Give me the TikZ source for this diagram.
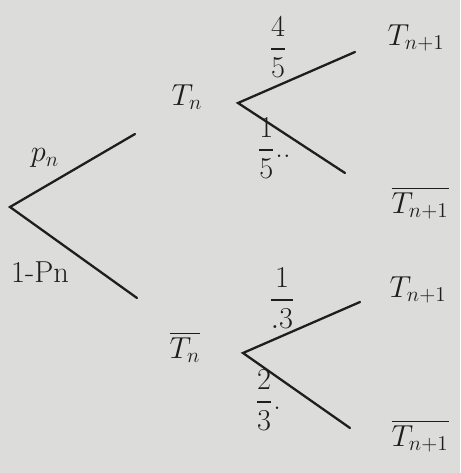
\documentclass[tikz,border=0pt]{standalone}
\usepackage{tikz}
\usetikzlibrary{positioning, backgrounds}
\usepackage{amsmath}
\definecolor{paper}{HTML}{DCDCDA}
\definecolor{ink}{HTML}{1E1E1E}
\tikzset{
  branch/.style={line width=1.3pt, draw=ink, line cap=round},
  event/.style={font=\LARGE, text=ink, inner sep=1pt},
  prob/.style={font=\LARGE, text=ink, inner sep=1pt},
}
\begin{document}
\begin{tikzpicture}[x=0.02cm, y=-0.02cm]
  % Paper and frame (pixel grid of the photo)
  \fill[paper] (0,0) rectangle (460,473);
  \useasboundingbox (0,0) rectangle (460,473);

  % First level
  \coordinate (root) at (10,207);
  \coordinate (upA) at (135,134);
  \coordinate (lowA) at (137,298);

  % Second level, after T_n
  \coordinate (forkT) at (238,103);
  \coordinate (forkTup) at (355,52);
  \coordinate (forkTlow) at (345,173);

  % Second level, after bar T_n
  \coordinate (forkB) at (243,353);
  \coordinate (forkBup) at (360,302);
  \coordinate (forkBlow) at (350,428);

  % Events
  \node[event] (tn) at (187,97) {$T_n$};
  \node[event] (tnbar) at (185,347) {$\overline{T_n}$};
  \node[event] (t1) at (416,38) {$T_{n+1}$};
  \node[event] (t1bar) at (420,203) {$\overline{T_{n+1}}$};
  \node[event] (t2) at (418,290) {$T_{n+1}$};
  \node[event] (t2bar) at (420,436) {$\overline{T_{n+1}}$};

  % Probabilities
  \node[prob] (ppn) at (45,158) {$p_n$};
  \node[prob] (pqn) at (40,272) {1-Pn};
  \node[prob] (p45) at (278,47) {$\dfrac{4}{5}$};
  \node[prob] (p15) at (274,148) {$\dfrac{1}{5}$..};
  \node[prob] (p13) at (282,298) {$\dfrac{1}{.3}$};
  \node[prob] (p23) at (268,400) {$\dfrac{2}{3}$.};

  % Branches
  \draw[branch] (upA) -- (root) -- (lowA);
  \draw[branch] (forkTup) -- (forkT) -- (forkTlow);
  \draw[branch] (forkBup) -- (forkB) -- (forkBlow);
\end{tikzpicture}
\end{document}
